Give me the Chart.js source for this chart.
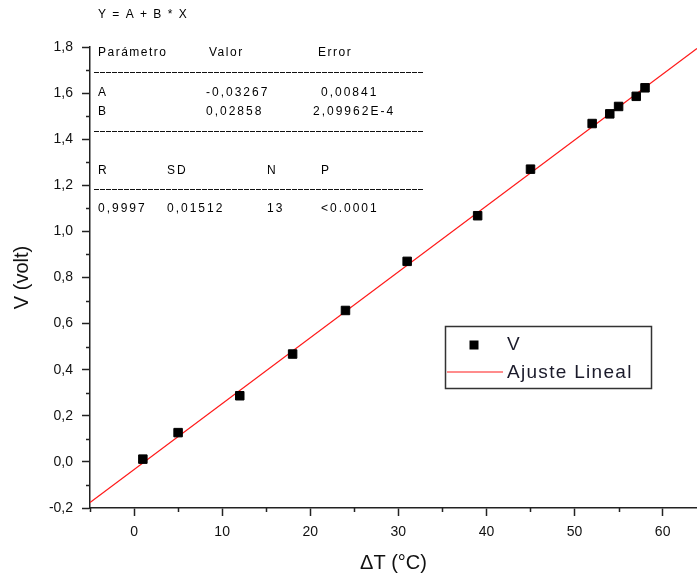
<!DOCTYPE html>
<html>
<head>
<meta charset="utf-8">
<script src="https://cdn.jsdelivr.net/npm/chart.js@4.4.1/dist/chart.umd.min.js"></script>
<style>
	html, body { margin: 0; padding: 0; background: #fff; overflow: hidden; }
	#wrap { width: 697px; height: 577px; position: relative; }
</style>
</head>
<body>
<div id="wrap"><canvas id="ajuste"></canvas></div>
<script>
// datos medidos
var deltaT = [1, 5, 12, 18, 24, 31, 39, 45, 52, 54, 55, 57, 58];
var voltaje = [0.012, 0.127, 0.287, 0.468, 0.657, 0.870, 1.068, 1.270, 1.468, 1.510, 1.542, 1.586, 1.623];

// recta de ajuste (extremos)
var ajusteT = [-5, 63.9];
var ajusteV = [-0.176, 1.794];

var xTicks = [0, 10, 20, 30, 40, 50, 60];
var yTicks = [-0.2, 0, 0.2, 0.4, 0.6, 0.8, 1.0, 1.2, 1.4, 1.6, 1.8];

// tabla de resultados del ajuste
var ecuacion = "Y = A + B * X";
var cabecera = ["Parámetro", "Valor", "Error"];
var filaA = ["A", "-0,03267", "0,00841"];
var filaB = ["B", "0,02858", "2,09962E-4"];
var cabecera2 = ["R", "SD", "N", "P"];
var fila2 = ["0,9997", "0,01512", "13", "<0.0001"];

var FONT = "'Liberation Sans', Arial, sans-serif";

// marcas menores de los ejes
var minorTicks = {
	id: 'minorTicks',
	afterDraw: function(chart) {
		var ctx = chart.ctx;
		var xs = chart.scales.x, ys = chart.scales.y;
		ctx.save();
		ctx.strokeStyle = '#222';
		ctx.lineWidth = 1.5;
		ctx.beginPath();
		for (var v = -5; v <= xs.max; v += 10) {
			var px = Math.round(xs.getPixelForValue(v)) + 0.5;
			ctx.moveTo(px, xs.top);
			ctx.lineTo(px, xs.top + 4);
		}
		for (var w = -0.1; w < ys.max; w += 0.2) {
			var py = Math.round(ys.getPixelForValue(w)) + 0.5;
			ctx.moveTo(ys.right, py);
			ctx.lineTo(ys.right - 4, py);
		}
		ctx.stroke();
		ctx.restore();
	}
};

// tabla y leyenda
var anotaciones = {
	id: 'anotaciones',
	afterDraw: function(chart) {
		var ctx = chart.ctx;
		ctx.save();
		ctx.fillStyle = '#000';
		ctx.font = '12px ' + FONT;
		ctx.letterSpacing = '1.5px';
		ctx.textBaseline = 'middle';
		ctx.textAlign = 'left';

		ctx.fillText(ecuacion, 98, 15);
		var cols = [98, 209, 318];
		cabecera.forEach(function(t, i) { ctx.fillText(t, cols[i], 53); });
		ctx.letterSpacing = '2px';
		var cols2 = [98, 206, 321];
		filaA.forEach(function(t, i) { ctx.fillText(t, cols2[i], 93); });
		var colsB = [98, 206, 313];
		filaB.forEach(function(t, i) { ctx.fillText(t, colsB[i], 112); });
		var cols3 = [98, 167, 267, 321];
		cabecera2.forEach(function(t, i) { ctx.fillText(t, cols3[i], 171); });
		fila2.forEach(function(t, i) { ctx.fillText(t, cols3[i], 209); });

		// lineas de guiones
		ctx.strokeStyle = '#111';
		ctx.lineWidth = 1.2;
		ctx.setLineDash([5, 1]);
		[72.5, 131.5, 189.5].forEach(function(y) {
			ctx.beginPath();
			ctx.moveTo(94, y);
			ctx.lineTo(423, y);
			ctx.stroke();
		});
		ctx.setLineDash([]);

		// leyenda
		var ds = chart.data.datasets;
		ctx.strokeStyle = '#333';
		ctx.lineWidth = 1.5;
		ctx.strokeRect(445.5, 326.5, 206, 62);
		ctx.fillStyle = '#000';
		ctx.fillRect(469.5, 340.5, 9, 9);
		ctx.strokeStyle = ds[1].borderColor;
		ctx.lineWidth = 1.2;
		ctx.beginPath();
		ctx.moveTo(447, 372);
		ctx.lineTo(503, 372);
		ctx.stroke();
		ctx.fillStyle = '#1a1a2a';
		ctx.font = '19px ' + FONT;
		ctx.letterSpacing = '1.3px';
		ctx.fillText(ds[0].label, 507, 345);
		ctx.fillText(ds[1].label, 507, 373);
		ctx.restore();
	}
};

$ = function(sel) { return document.querySelector(sel); };

var ctx1 = $("#ajuste");
var grafico = new Chart(ctx1, {
	type: 'scatter',
	data: {
		datasets: [{
			label: "V",
			data: deltaT.map(function(t, i) { return { x: t, y: voltaje[i] }; }),
			pointStyle: 'rect',
			pointRadius: 6,
			pointHoverRadius: 6,
			backgroundColor: '#000',
			borderColor: '#000',
			borderWidth: 1,
			order: 1
		},
		{
			label: "Ajuste Lineal",
			type: 'line',
			data: ajusteT.map(function(t, i) { return { x: t, y: ajusteV[i] }; }),
			borderColor: '#ff1a1a',
			borderWidth: 1.2,
			pointRadius: 0,
			fill: false,
			order: 2
		}]
	},
	options: {
		responsive: true,
		maintainAspectRatio: false,
		animation: false,
		layout: {
			autoPadding: false,
			padding: { top: 47, right: 0, bottom: 0, left: 0 }
		},
		plugins: {
			legend: { display: false },
			tooltip: { enabled: false }
		},
		scales: {
			x: {
				type: 'linear',
				min: -5,
				max: 63.9,
				afterBuildTicks: function(scale) {
					scale.ticks = xTicks.map(function(v) { return { value: v }; });
				},
				afterFit: function(scale) {
					scale.height = 69;
					scale.paddingLeft = 0;
					scale.paddingRight = 0;
				},
				border: { display: true, color: '#222', width: 1.5 },
				grid: { display: true, drawOnChartArea: false, drawTicks: true, tickLength: 8, tickColor: '#222', tickWidth: 1.5 },
				ticks: {
					padding: 8,
					color: '#111',
					font: { family: FONT, size: 14 },
					maxRotation: 0,
					callback: function(v) { return String(v); }
				},
				title: {
					display: true,
					text: "\u0394T (°C)",
					color: '#111',
					font: { family: FONT, size: 20 },
					padding: { top: 0, bottom: 2 }
				}
			},
			y: {
				type: 'linear',
				min: -0.2,
				max: 1.8,
				afterBuildTicks: function(scale) {
					scale.ticks = yTicks.map(function(v) { return { value: v }; });
				},
				afterFit: function(scale) { scale.width = 90; },
				border: { display: true, color: '#222', width: 1.5 },
				grid: { display: true, drawOnChartArea: false, drawTicks: true, tickLength: 8, tickColor: '#222', tickWidth: 1.5 },
				ticks: {
					padding: 9,
					color: '#111',
					font: { family: FONT, size: 14 },
					callback: function(v) { return v.toFixed(1).replace('.', ','); }
				},
				title: {
					display: true,
					text: "V (volt)",
					color: '#111',
					font: { family: FONT, size: 20 },
					padding: { top: 10, bottom: 0 }
				}
			}
		}
	},
	plugins: [minorTicks, anotaciones]
});
</script>
</body>
</html>
